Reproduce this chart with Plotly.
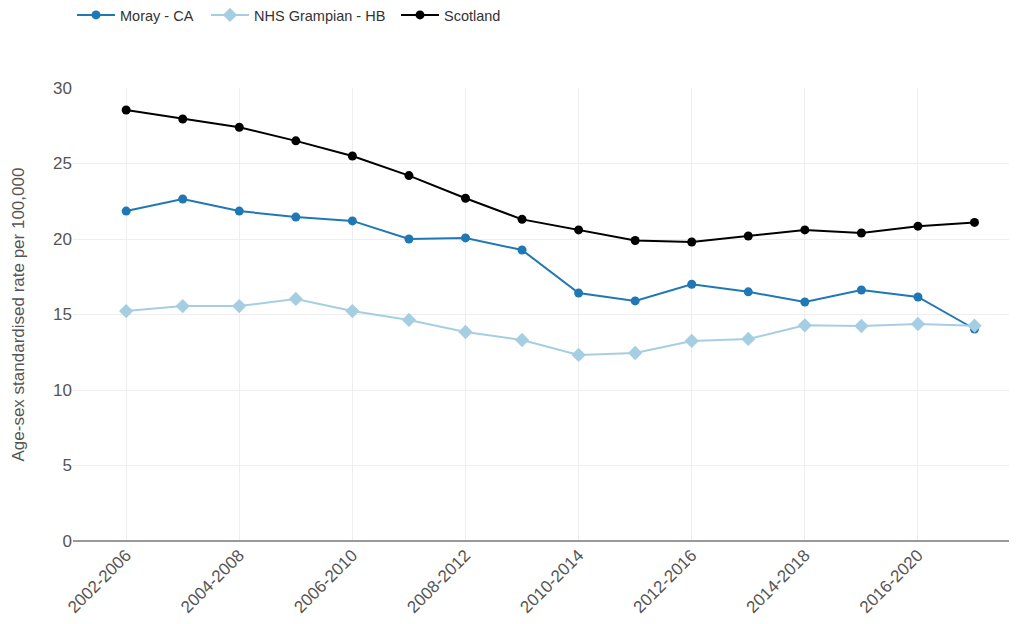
import plotly.graph_objects as go

periods = ["2002-2006", "2003-2007", "2004-2008", "2005-2009", "2006-2010", "2007-2011",
           "2008-2012", "2009-2013", "2010-2014", "2011-2015", "2012-2016", "2013-2017",
           "2014-2018", "2015-2019", "2016-2020", "2017-2021"]
moray = [21.85, 22.65, 21.85, 21.45, 21.2, 20.0, 20.07, 19.27, 16.42, 15.9, 17.0, 16.5,
         15.83, 16.62, 16.16, 14.04]
grampian = [15.23, 15.56, 15.56, 16.03, 15.23, 14.64, 13.84, 13.31, 12.32, 12.45, 13.25,
            13.38, 14.28, 14.24, 14.37, 14.26]
scotland = [28.54, 27.95, 27.4, 26.5, 25.5, 24.2, 22.7, 21.3, 20.6, 19.9, 19.8, 20.2,
            20.6, 20.4, 20.85, 21.1]
tick_labels = periods[::2]

fig = go.Figure()
fig.add_trace(go.Scatter(x=periods, y=moray, mode='lines+markers', name='Moray - CA',
                         line=dict(color='#1f78b4', width=2), legend='legend',
                         marker=dict(symbol='circle', size=9, color='#1f78b4')))
fig.add_trace(go.Scatter(x=periods, y=grampian, mode='lines+markers', name='NHS Grampian - HB',
                         line=dict(color='#a6cee3', width=2), legend='legend2',
                         marker=dict(symbol='diamond', size=11, color='#a6cee3')))
fig.add_trace(go.Scatter(x=periods, y=scotland, mode='lines+markers', name='Scotland',
                         line=dict(color='#000000', width=2), legend='legend3',
                         marker=dict(symbol='circle', size=9, color='#000000')))

# page body adds an 8px margin, so the figure is sized to fit inside it
W, H = 1001, 608
L, T, B = 65, 80, 75

# y axis title placed by hand so it sits well left of the tick labels
fig.add_annotation(text='Age-sex standardised rate per 100,000', textangle=-90,
                   xref='paper', yref='paper', x=-(L - 10) / (W - L), y=0.5,
                   xanchor='center', yanchor='middle', showarrow=False,
                   font=dict(size=17, color='#555'))


def legend_at(px):
    return dict(orientation='h', x=px / W, y=1 - 7 / H, xref='container', yref='container',
                xanchor='left', yanchor='middle', itemwidth=38,
                font=dict(size=14.5, color='#333'))


fig.update_layout(
    width=W, height=H,
    margin=dict(l=L, r=0, t=T, b=B),
    paper_bgcolor='white', plot_bgcolor='white',
    font=dict(family='Liberation Sans, Arial, sans-serif', size=14, color='#555'),
    legend=legend_at(64), legend2=legend_at(198), legend3=legend_at(388),
    showlegend=True,
)
fig.update_xaxes(type='category', tickvals=tick_labels, ticktext=tick_labels,
                 tickangle=-45, range=[-0.94, 15.61], showgrid=True, gridcolor='#eeeeee',
                 showline=False, ticks='', automargin=False,
                 tickfont=dict(size=17, color='#555'))
fig.update_yaxes(range=[0, 30], dtick=5, showgrid=True, gridcolor='#eeeeee',
                 zeroline=True, zerolinecolor='#999999', zerolinewidth=2,
                 automargin=False, tickfont=dict(size=17, color='#555'), ticks='')

fig.write_html("out.html")
